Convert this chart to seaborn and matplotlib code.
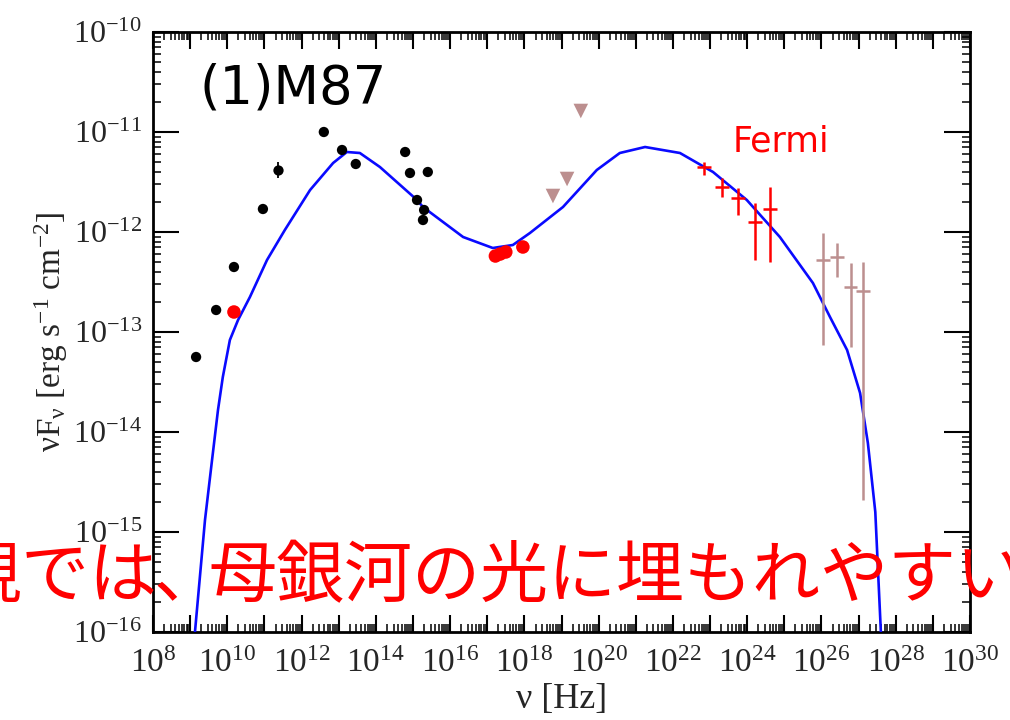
import numpy as np
import matplotlib
matplotlib.use("Agg")
import matplotlib.pyplot as plt
import seaborn as sns
from matplotlib.ticker import FixedLocator, LogLocator, NullFormatter

# ---------------- data (log10 values) ----------------
model_lognu = [9.13, 9.40, 9.59, 9.75, 9.88, 10.07, 10.29, 10.61, 11.07, 11.55,
               12.23, 12.85, 13.22, 13.57, 14.11, 15.11, 15.27, 16.35, 17.15, 17.69,
               18.15, 19.04, 19.95, 20.57, 21.25, 22.19, 23.08, 23.99, 24.88, 25.77,
               26.23, 26.69, 27.04, 27.25, 27.45, 27.60]
model_logflux = [-16.0, -14.88, -14.28, -13.78, -13.45, -13.08, -12.88, -12.65, -12.28, -11.98,
                 -11.58, -11.31, -11.20, -11.21, -11.35, -11.68, -11.75, -12.05, -12.16, -12.13,
                 -12.01, -11.75, -11.38, -11.21, -11.15, -11.21, -11.40, -11.68, -12.05, -12.51,
                 -12.85, -13.18, -13.61, -14.11, -14.80, -16.0]

black_lognu = [9.16, 9.70, 10.18, 10.96, 12.60, 13.09, 13.46, 14.79, 14.92, 15.40, 15.11, 15.30, 15.27]
black_logflux = [-13.25, -12.78, -12.35, -11.77, -11.00, -11.18, -11.32, -11.20, -11.41, -11.40, -11.68, -11.78, -11.88]

black_err_lognu = [11.37]
black_err_logflux = [-11.38]
black_err_loglo = [-11.46]
black_err_loghi = [-11.30]

red_lognu = [10.18, 17.22, 17.35, 17.50, 17.96]
red_logflux = [-12.80, -12.24, -12.22, -12.20, -12.15]

ul_lognu = [18.77, 19.15, 19.52]
ul_logflux = [-11.64, -11.47, -10.79]

fermi_lognu = [22.84, 23.32, 23.75, 24.21, 24.61]
fermi_logflux = [-11.35, -11.55, -11.66, -11.90, -11.77]
fermi_loglo = [-11.43, -11.65, -11.83, -12.28, -12.30]
fermi_loghi = [-11.30, -11.46, -11.56, -11.71, -11.55]

tev_lognu = [26.04, 26.42, 26.79, 27.12]
tev_logflux = [-12.28, -12.25, -12.55, -12.59]
tev_loglo = [-13.13, -12.45, -13.15, -14.68]
tev_loghi = [-12.01, -12.11, -12.31, -12.30]

bin_halfwidth = 0.18  # dex

x_exps = list(range(8, 31))
x_label_exps = list(range(8, 31, 2))
y_exps = list(range(-16, -9))

title_text = "(1)M87"
fermi_text = "Fermi"
jp_text_a = "視では"
jp_text_b = "、"
jp_text_c = "母銀河の光に埋もれやすい"

# ---------------- style ----------------
sns.set_style("ticks")
plt.rcParams["font.family"] = ["Liberation Serif", "DejaVu Serif"]
plt.rcParams["mathtext.default"] = "regular"
plt.rcParams["axes.unicode_minus"] = True

fig = plt.figure(figsize=(10.10, 7.20), dpi=100)
ax = fig.add_axes([153 / 1010, 1 - 632 / 720, (970 - 153) / 1010, (632 - 32) / 720])
ax.set_xscale("log")
ax.set_yscale("log")

p = lambda v: 10.0 ** np.asarray(v, dtype=float)

# model curve
sns.lineplot(x=p(model_lognu), y=p(model_logflux), ax=ax, color="#0a0aff",
             lw=1.9, sort=False, estimator=None, zorder=3)

# black archival points
sns.scatterplot(x=p(black_lognu), y=p(black_logflux), ax=ax, color="black",
                s=55, edgecolor="none", zorder=4)
bx = p(black_err_lognu); by = p(black_err_logflux)
ax.errorbar(bx, by, yerr=[by - p(black_err_loglo), p(black_err_loghi) - by],
            fmt="o", color="black", ms=7.4, mec="none", elinewidth=1.3, capsize=0, zorder=4)

# red simultaneous points
sns.scatterplot(x=p(red_lognu), y=p(red_logflux), ax=ax, color="#ff0000",
                s=95, edgecolor="none", zorder=5)

# upper limits
sns.scatterplot(x=p(ul_lognu), y=p(ul_logflux), ax=ax, color="rosybrown",
                marker="v", s=110, edgecolor="none", zorder=4)

# Fermi crosses
fx = p(fermi_lognu); fy = p(fermi_logflux)
ax.errorbar(fx, fy,
            xerr=[fx - p(np.array(fermi_lognu) - bin_halfwidth), p(np.array(fermi_lognu) + bin_halfwidth) - fx],
            yerr=[fy - p(fermi_loglo), p(fermi_loghi) - fy],
            fmt="none", ecolor="#ff0000", elinewidth=1.8, capsize=0, zorder=5)

# TeV crosses
tx = p(tev_lognu); ty = p(tev_logflux)
ax.errorbar(tx, ty,
            xerr=[tx - p(np.array(tev_lognu) - bin_halfwidth), p(np.array(tev_lognu) + bin_halfwidth) - tx],
            yerr=[ty - p(tev_loglo), p(tev_loghi) - ty],
            fmt="none", ecolor="rosybrown", elinewidth=1.8, capsize=0, zorder=4)

ax.set_xlim(1e8, 1e30)
ax.set_ylim(1e-16, 1e-10)

# ticks
ax.xaxis.set_major_locator(FixedLocator([10.0 ** e for e in x_exps]))
ax.set_xticklabels([("$10^{%d}$" % e) if e in x_label_exps else "" for e in x_exps])
ax.xaxis.set_minor_locator(LogLocator(base=10, subs=np.arange(2, 10), numticks=200))
ax.xaxis.set_minor_formatter(NullFormatter())
ax.yaxis.set_major_locator(FixedLocator([10.0 ** e for e in y_exps]))
ax.set_yticklabels(["$10^{%d}$" % e for e in y_exps])
ax.yaxis.set_minor_locator(LogLocator(base=10, subs=np.arange(2, 10), numticks=200))
ax.yaxis.set_minor_formatter(NullFormatter())

ax.tick_params(which="both", direction="in", top=True, right=True, color="black")
ax.tick_params(axis="x", which="major", length=12, width=1.5, labelsize=24, pad=12)
ax.tick_params(axis="y", which="major", length=19, width=1.5, labelsize=23, pad=8)
ax.tick_params(which="minor", length=6, width=1.1)
for sp in ax.spines.values():
    sp.set_linewidth(2.0)
    sp.set_color("black")
    sp.set_visible(True)

ax.set_xlabel("ν [Hz]", fontsize=26, labelpad=3)
ax.set_ylabel("νF$_{ν}$ [erg s$^{-1}$ cm$^{-2}$]", fontsize=24, labelpad=2)

# annotations
fig.text(200 / 1010, 1 - 89 / 720, title_text, fontsize=38, family="DejaVu Sans",
         ha="left", va="center", color="black")
fig.text(733 / 1010, 1 - 141 / 720, fermi_text, fontsize=25, family="DejaVu Sans",
         ha="left", va="center", color="#ff0000")
jp_fam = ["Noto Sans CJK JP", "DejaVu Sans"]
jp_y = 1 - 578 / 720
fig.text(158 / 1010, jp_y, jp_text_a, fontsize=49, family=jp_fam,
         ha="right", va="center", color="#ff0000", zorder=10)
fig.text(153 / 1010, jp_y, jp_text_b, fontsize=49, family=jp_fam,
         ha="left", va="center", color="#ff0000", zorder=10)
fig.text(208 / 1010, jp_y, jp_text_c, fontsize=49, family=jp_fam,
         ha="left", va="center", color="#ff0000", zorder=10)

fig.savefig("out.png", dpi=100)
